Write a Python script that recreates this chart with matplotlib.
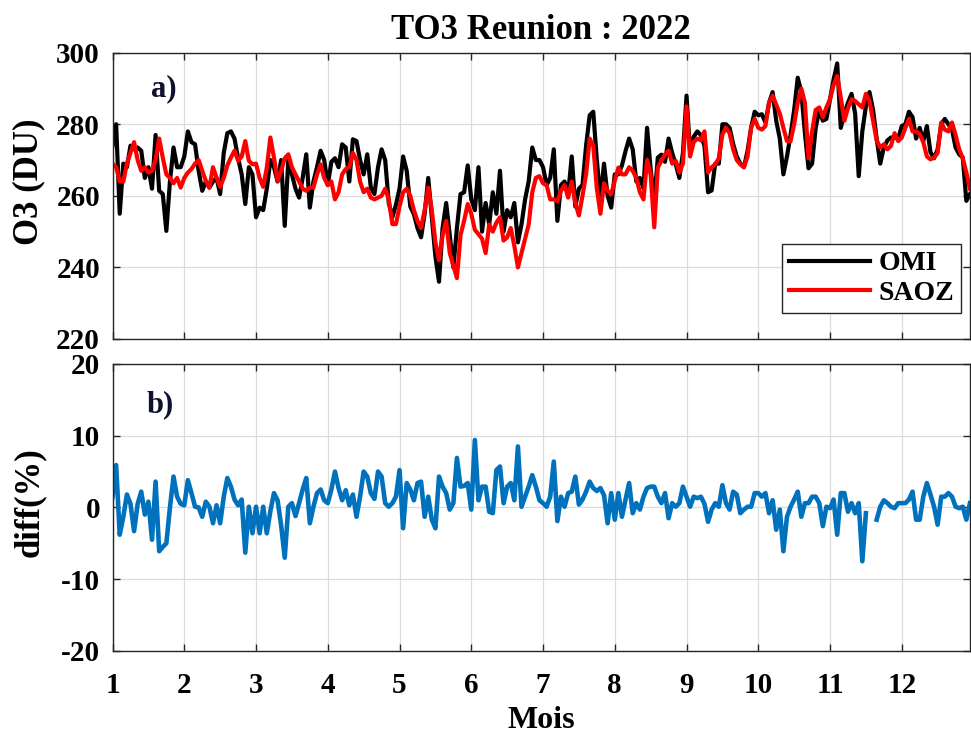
import numpy as np
import matplotlib
matplotlib.use("Agg")
import matplotlib.pyplot as plt

omi = [274, 280, 255, 269, 268, 274, 273, 273.5, 272.6, 265,
       268, 262, 277, 261.4, 260.5, 250.2, 264, 273.5, 268, 268,
       271, 278, 275, 274.4, 267, 261.4, 264, 262.3, 264, 265,
       260.5, 272, 277.5, 278, 276, 270.5, 266, 257.7, 268, 266,
       254, 256.7, 256, 262, 270, 268, 264, 270, 251.6, 270,
       266, 262, 259.5, 265, 271.6, 256.7, 264, 268, 272.6, 270,
       263,
       269.5, 270.5, 268, 274.4, 273.5, 264, 275.8, 275.3, 270, 266,
       271.6, 262.3, 260.5, 268, 273, 270, 258, 254, 257.5, 262,
       271, 267, 257, 254.9, 251, 248.4, 255, 265, 254, 243,
       236, 251, 258, 249, 240, 251, 260.5, 261, 268.5, 259,
       256, 268, 250, 258, 252, 261, 255, 267, 250, 256,
       254, 258, 247, 252, 259, 264, 273.5, 270, 270, 268,
       263, 265, 273, 253, 263, 264, 260.5, 271, 257, 262,
       263, 274, 282.5, 283.5, 270, 259, 269, 260, 256.7, 266,
       266, 268.5, 272.5, 276, 273, 264, 265, 262, 279, 267.5,
       258.6, 270.7, 271.5, 269.5, 276, 272, 268.8, 265, 272, 288,
       272, 276.5, 278, 277, 274, 261, 261.5, 269, 269, 280,
       280, 279, 274.5, 271, 269, 268, 272.5, 279, 283.5, 282.5,
       282.8, 280.5, 286, 289, 281, 276, 266, 271, 277, 284,
       293, 289, 277.5, 267.7, 269, 279, 284, 281, 281.5, 287,
       292.5, 297, 279, 283, 286, 288.5, 283, 265.5, 278, 285,
       289, 284, 276, 269, 273.5, 275.5, 276.3, 276.3, 276, 279.5,
       280, 283.5, 282, 276, 279, 275.3, 279.5, 272.2, 270.5, 273,
       280, 281.5, 280, 278.5, 273.5, 271.6, 270.7, 258.6, 260.5]

saoz = [269, 268, 264, 264, 269, 272, 275, 270, 267, 268,
        266.5, 267, 270, 276, 270.7, 266, 265, 263.5, 265, 262.3,
        265, 266.5, 267.5, 269, 270, 267, 264.2, 262.3, 268, 265,
        262.5, 265, 268.5, 270.7, 272.6, 269.8, 271, 275.3, 269.8, 268.8,
        269, 265, 262.5, 267.9, 276.3, 270.7, 264.2, 267, 270.5, 271.6,
        268, 266, 264, 262, 261.4, 262.3, 262.3, 266, 268.8, 265,
        263,
        264, 259, 261, 266, 267.5, 268, 272, 270, 264, 261,
        262, 259.5, 259, 259.5, 260, 262, 259, 252.1, 252.1, 257,
        261, 262, 260, 256, 253, 251, 256, 262.3, 256, 247,
        242, 249, 253, 244, 240.5, 237, 249, 253, 257.7, 255,
        250.5, 249.3, 248, 244, 252, 250, 252.5, 254, 247.5, 248.4,
        251, 246, 240, 244, 248, 252, 261, 265, 265.5, 263.5,
        263, 259, 259, 258.5, 261.4, 263, 259.5, 264, 258, 254.5,
        260, 266, 276, 274, 262, 255, 263.5, 261.4, 260.5, 264.2,
        267.9, 266, 266, 268, 267, 265, 261, 259, 270, 266,
        251.2, 267.9, 269.8, 271.6, 272.6, 269, 269.8, 266.5, 269, 285,
        271, 275, 276, 275.5, 278, 266.5, 268, 268.8, 270.5, 277.2,
        279, 277.5, 273, 270, 268.8, 268, 271, 279, 281.5, 279,
        278.5, 279.5, 286, 288, 285.5, 283, 279, 275.3, 275.3, 280,
        286, 290, 286, 270.5, 278, 284, 284.7, 282, 284.7, 287,
        291, 293.5, 287.4, 281, 284.5, 287, 286.5, 285.6, 284.7, 288.5,
        286.5, 281, 275.5, 273.5, 274.4, 273, 274, 277.5, 275.3, 276.3,
        279, 281.5, 278, 278, 277.2, 275, 271, 270.2, 270.7, 272,
        280.5, 278.5, 278, 280.5, 277, 273, 270.5, 266.5, 262]

diff = [1.5, 5.9, -3.8, -1.3, 1.8, 0.5, -3.3, 0.5, 2.2, -1.0,
        0.8, -4.5, 3.6, -6.1, -5.5, -5.0, 0, 4.3, 1.5, 0.5,
        0.3, 3.8, 2.0, 0.1, 0, -1.3, 0.8, 0.1, -2.2, 0.3,
        -2.2, 1.5, 4.1, 2.9, 1.1, 0.3, 1.1, -6.3, 0.1, -3.6,
        0.1, -3.6, 0.1, -3.6, -0.5, 2.0, 1.0, -2.5, -7.0, 0.1,
        0.6, -1.2, 0.6, 2.5, 4.1, -2.2, 0.1, 2.0, 2.5, 1.0,
        0.6,
        2.5, 5.0, 2.7, 1.0, 2.4, 0.3, 1.8, -1.3, 1.5, 5.0,
        4.3, 2.0, 1.2, 5.0, 4.3, 0.6, 0.1, 0.6, 1.5, 5.2,
        -2.9, 3.4, 2.5, 1.0, 3.4, 3.6, -1.3, 1.5, -1.7, -2.9,
        4.3, 2.9, 2.0, -0.3, 0.6, 6.9, 2.9, 3.0, 3.4, -0.3,
        9.4, 1.0, 2.9, 2.9, -0.6, -0.8, 5.2, 5.7, 0.6, 2.9,
        3.4, 1.0, 8.5, 0.1, 1.5, 2.9, 4.5, 2.9, 1.0, 0.6,
        0.1, 1.5, 6.4, -1.9, 1.5, 0.1, 2.0, 2.2, 4.3, 0.4,
        1.1, 2.2, 3.6, 2.7, 2.3, 2.7, 1.7, -2.2, 2.0, -1.7,
        2.0, -1.3, 1.1, 3.4, -0.8, 0.6, -0.3, 1.5, 2.7, 2.9,
        2.9, 1.5, 0.6, 2.0, -1.5, 0.6, 0.1, 0.6, 2.9, 1.5,
        0.1, 1.5, 1.3, 1.5, 0.5, -2.0, -0.3, 0.6, 0.1, 3.1,
        0.6, -0.3, 2.2, 1.8, -0.8, -0.3, 0.1, 0.1, 2.0, 2.0,
        1.5, 2.0, -0.8, 1.0, -3.1, -0.3, -6.1, -1.3, 0.1, 1.1,
        2.2, -1.3, 0.6, 0.6, 1.5, 1.5, 0.6, -2.6, 0.1, -0.1,
        1.1, -3.8, 2.0, 2.0, -0.6, 0.6, -0.8, 0.6, -7.5, -0.8,
        np.nan, np.nan, -1.7, 0.1, 1.0, 0.6, 0.1, -0.1, 0.6, 0.6,
        0.6, 1.1, 2.2, -1.7, -1.7, 1.5, 3.4, 1.8, 0.1, -2.4,
        1.5, 1.5, 2.0, 1.5, 0.1, -0.1, 0.1, -1.7, 0.6]

mois = 1 + 0.05 * np.arange(len(omi))
month_ticks = list(range(1, 13))

plt.rcParams['font.family'] = ['Liberation Serif', 'DejaVu Serif']
plt.rcParams['font.weight'] = 'bold'
plt.rcParams['axes.unicode_minus'] = False

fig = plt.figure(figsize=(9.71, 7.38), dpi=100)
ax1 = fig.add_axes([0.1159, 0.5407, 0.883, 0.3879])
ax2 = fig.add_axes([0.1159, 0.1179, 0.883, 0.389])

ax1.plot(mois, omi, color='black', lw=3.0, label='OMI')
ax1.plot(mois, saoz, color='#ff0000', lw=3.0, label='SAOZ')
ax2.plot(mois, diff, color='#0072bd', lw=3.3)

for ax in (ax1, ax2):
    ax.set_xlim(1, 12.95)
    ax.set_xticks(month_ticks)
    ax.grid(True, color='#dcdcdc', lw=0.9)
    ax.set_axisbelow(True)
    ax.tick_params(direction='in', top=True, right=True, length=5,
                   width=1, colors='#262626', labelsize=21)
    ax.tick_params(labelcolor='black')
    ax.tick_params(axis='y', pad=9)
    for s in ax.spines.values():
        s.set_color('#262626')
        s.set_linewidth(1.0)

ax1.set_ylim(220, 300)
ax1.set_yticks([220, 240, 260, 280, 300])
ax1.tick_params(labelbottom=False)
ax2.set_ylim(-20, 20)
ax2.set_yticks([-20, -10, 0, 10, 20])
ax2.tick_params(axis='x', pad=15)

ax1.set_title('TO3 Reunion : 2022', fontsize=25, fontweight='bold', pad=10)
ax1.set_ylabel('O3 (DU)', fontsize=25, fontweight='bold')
ax2.set_ylabel('diff(%)', fontsize=25, fontweight='bold')
ax1.yaxis.set_label_coords(-0.078, 0.55)
ax2.yaxis.set_label_coords(-0.078, 0.52)
ax2.set_xlabel('Mois', fontsize=23, fontweight='bold', labelpad=5)

ax1.text(1.71, 290, 'a)', fontsize=22, fontweight='bold', color='#101030',
         ha='center', va='center')
ax2.text(1.66, 14.3, 'b)', fontsize=22, fontweight='bold', color='#101030',
         ha='center', va='center')

leg = ax1.legend(loc='lower right', bbox_to_anchor=(0.9895, 0.0906),
                 borderaxespad=0, fancybox=False, framealpha=1,
                 edgecolor='#262626', fontsize=20, handlelength=2.9,
                 labelspacing=0.15, borderpad=0.25, handletextpad=0.3)
leg.get_frame().set_linewidth(1.0)

fig.savefig('out.png', dpi=100)
